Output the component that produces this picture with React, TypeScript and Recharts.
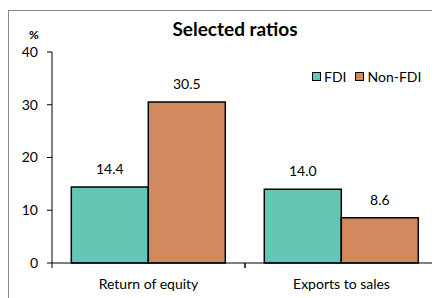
import React from 'react';
import { BarChart, Bar, XAxis, YAxis, LabelList } from 'recharts';

const categories = ['Return of equity', 'Exports to sales'];
const fdiValues = [14.4, 14.0];
const nonFdiValues = [30.5, 8.6];
const yTicks = [0, 10, 20, 30, 40];

const FONT = 'Lato, "Open Sans", sans-serif';
const FDI_COLOR = '#64C6B5';
const NON_FDI_COLOR = '#D3895F';

const data = categories.map((name, i) => ({ name, fdi: fdiValues[i], nonFdi: nonFdiValues[i] }));

const CHART_W = 440;
const CHART_H = 288;
const margin = { top: 41, right: 11, bottom: 6, left: 0 };
const Y_AXIS_W = 43;
const bandHalf = (CHART_W - margin.left - margin.right - Y_AXIS_W) / categories.length / 2;

const CategoryTick = (props: any) => {
    const { x, y, payload } = props;
    return (
        <g>
            <line x1={x - bandHalf} y1={y} x2={x - bandHalf} y2={y + 5} stroke="#000" />
            <line x1={x + bandHalf} y1={y} x2={x + bandHalf} y2={y + 5} stroke="#000" />
            <text x={x} y={y} dy={26} textAnchor="middle" fontSize={14} fill="#000" fontFamily={FONT}>
                {payload.value}
            </text>
        </g>
    );
};

const LegendBox = () => (
    <div style={{ position: 'absolute', top: 57, left: 303, display: 'flex', alignItems: 'center', fontFamily: FONT, fontSize: 14, color: '#000' }}>
        <span style={{ width: 7, height: 7, background: FDI_COLOR, border: '1.5px solid #000', marginRight: 3 }} />
        <span style={{ marginRight: 9 }}>FDI</span>
        <span style={{ width: 7, height: 7, background: NON_FDI_COLOR, border: '1.5px solid #000', marginRight: 3 }} />
        <span>Non-FDI</span>
    </div>
);

const App: React.FC = () => {
    return (
        <div style={{ position: 'relative', top: 2, width: 440, height: 290, border: '1px solid #8a8a8a', background: '#fff', fontFamily: FONT }}>
            <div style={{ position: 'absolute', top: 6, left: 0, width: 452, textAlign: 'center', fontWeight: 700, fontSize: 19 }}>
                Selected ratios
            </div>
            <div style={{ position: 'absolute', top: 16, left: 20, fontWeight: 700, fontSize: 12 }}>%</div>
            <LegendBox />
            <BarChart width={CHART_W} height={CHART_H} data={data} margin={margin} barCategoryGap="10%" barGap={0}>
                <XAxis
                    dataKey="name"
                    tick={<CategoryTick />}
                    tickLine={false}
                    tickSize={0}
                    tickMargin={0}
                    height={30}
                    axisLine={{ stroke: '#000' }}
                    interval={0}
                />
                <YAxis
                    width={Y_AXIS_W}
                    domain={[0, 40]}
                    ticks={yTicks}
                    tickSize={5}
                    tickMargin={9}
                    axisLine={{ stroke: '#000' }}
                    tickLine={{ stroke: '#000' }}
                    tick={{ fill: '#000', fontSize: 14, fontFamily: FONT }}
                />
                <Bar dataKey="fdi" name="FDI" fill={FDI_COLOR} stroke="#000" strokeWidth={1.5} isAnimationActive={false}>
                    <LabelList dataKey="fdi" position="top" offset={13} formatter={(v: any) => Number(v).toFixed(1)} fill="#000" fontSize={14} fontFamily={FONT} />
                </Bar>
                <Bar dataKey="nonFdi" name="Non-FDI" fill={NON_FDI_COLOR} stroke="#000" strokeWidth={1.5} isAnimationActive={false}>
                    <LabelList dataKey="nonFdi" position="top" offset={13} formatter={(v: any) => Number(v).toFixed(1)} fill="#000" fontSize={14} fontFamily={FONT} />
                </Bar>
            </BarChart>
        </div>
    );
};

export default App;
